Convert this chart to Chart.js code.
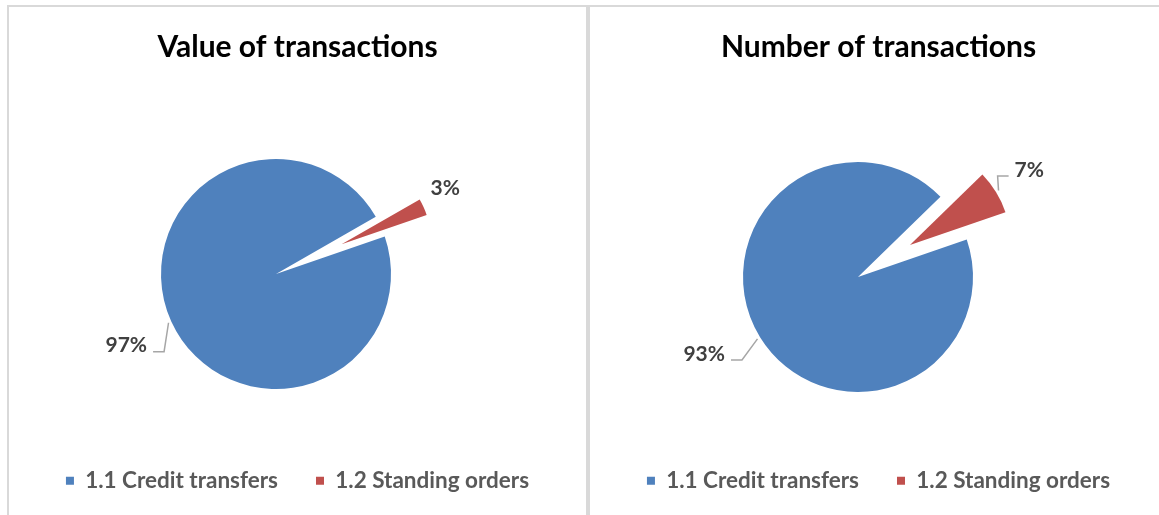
<!DOCTYPE html>
<html>
<head>
<meta charset="utf-8">
<title>Transactions</title>
<script src="https://cdn.jsdelivr.net/npm/chart.js@4.4.1/dist/chart.umd.min.js"></script>
<style>
  html, body { margin: 0; padding: 0; background: #fff; overflow: hidden; width: 1159px; height: 515px; }
  .panel { position: absolute; top: 5px; height: 600px; border: 2px solid #d9d9d9; box-sizing: border-box; }
  #leftPanel { left: 7px; width: 581px; }
  #rightPanel { left: 588px; width: 600px; }
  .panel canvas { position: absolute; left: 0; top: 0; }
</style>
</head>
<body>
<div class="panel" id="leftPanel"><canvas id="valueChart" width="577" height="495"></canvas></div>
<div class="panel" id="rightPanel"><canvas id="numberChart" width="577" height="495"></canvas></div>
<script>
// data (shares in %)
const categories = ['1.1 Credit transfers', '1.2 Standing orders'];
const valueShares = [97, 3];
const numberShares = [93, 7];
const chartTitles = ['Value of transactions', 'Number of transactions'];

const sliceColors = ['#4f81bd', '#c0504d'];
const FONT = 'Lato, "Open Sans", sans-serif';

// move the pie inside its canvas (title + legend stay centred)
const pieCenter = {
  id: 'pieCenter',
  afterLayout(chart, args, opts) {
    const a = chart.chartArea;
    const dx = opts.x - (a.left + a.right) / 2;
    const dy = opts.y - (a.top + a.bottom) / 2;
    a.left += dx; a.right += dx; a.top += dy; a.bottom += dy;
  }
};

// pull the small slice out of the pie and draw it smaller, like excel does
const explode = {
  id: 'explode',
  afterDatasetsUpdate(chart, args, opts) {
    chart.getDatasetMeta(0).data.forEach((arc, i) => {
      if (!opts.shift[i]) return;
      const mid = (arc.startAngle + arc.endAngle) / 2;
      arc.x += Math.cos(mid) * opts.shift[i];
      arc.y += Math.sin(mid) * opts.shift[i];
      arc.outerRadius = opts.radius[i];
    });
  }
};

// percentage labels with excel style leader lines
const pctLabels = {
  id: 'pctLabels',
  afterDatasetsDraw(chart, args, opts) {
    const ctx = chart.ctx;
    const a = chart.chartArea;
    const cx = (a.left + a.right) / 2;
    const cy = (a.top + a.bottom) / 2;
    const meta = chart.getDatasetMeta(0);
    const values = chart.data.datasets[0].data;
    const total = values.reduce((s, v) => s + v, 0);
    ctx.save();
    ctx.font = 'bold 21px ' + FONT;
    ctx.textAlign = 'center';
    ctx.textBaseline = 'middle';
    meta.data.forEach((arc, i) => {
      const mid = (arc.startAngle + arc.endAngle) / 2;
      const ang = mid + opts.turn[i] * Math.PI / 180;
      const lx = cx + Math.cos(ang) * opts.dist[i];
      const ly = cy + Math.sin(ang) * opts.dist[i];
      const text = Math.round(values[i] / total * 100) + '%';
      const w = ctx.measureText(text).width;

      if (opts.leader[i]) {
        const edge = arc.outerRadius + 3;
        const x0 = arc.x + Math.cos(mid) * edge;
        const y0 = arc.y + Math.sin(mid) * edge;
        const side = Math.cos(ang) < 0 ? 1 : -1;
        ctx.beginPath();
        ctx.moveTo(x0, y0);
        ctx.lineTo(lx + side * (w / 2 + 17), ly + 6);
        ctx.lineTo(lx + side * (w / 2 + 6), ly + 6);
        ctx.strokeStyle = '#a6a6a6';
        ctx.lineWidth = 1.5;
        ctx.stroke();
      }
      ctx.fillStyle = '#404040';
      ctx.fillText(text, lx, ly);
    });
    ctx.restore();
  }
};

function makePie(id, title, shares, look) {
  return new Chart(document.getElementById(id), {
    type: 'pie',
    data: {
      labels: categories,
      datasets: [{
        data: shares,
        backgroundColor: sliceColors,
        borderWidth: 0,
        rotation: 71,
        radius: 115,
        clip: false
      }]
    },
    options: {
      responsive: false,
      animation: false,
      events: [],
      layout: { padding: 0 },
      plugins: {
        title: {
          display: true,
          text: title,
          color: '#000',
          font: { family: FONT, size: 30, weight: 'bold' },
          padding: { top: 22, bottom: 20 }
        },
        legend: {
          position: 'bottom',
          labels: {
            usePointStyle: true,
            pointStyle: 'rect',
            boxWidth: 8,
            boxHeight: 8,
            padding: 38,
            color: '#595959',
            font: { family: FONT, size: 22.5, weight: 'bold' }
          }
        },
        tooltip: { enabled: false },
        pieCenter: look.center,
        explode: look.explode,
        pctLabels: look.labels
      }
    },
    plugins: [pieCenter, explode, pctLabels]
  });
}

makePie('valueChart', chartTitles[0], valueShares, {
  explode: { shift: [0, 72], radius: [null, 90] },
  center: { x: 267, y: 267 },
  labels: { dist: [166, 190], turn: [-1.2, -2.6], leader: [true, false] }
});

makePie('numberChart', chartTitles[1], numberShares, {
  explode: { shift: [0, 61], radius: [null, 101] },
  center: { x: 268, y: 270 },
  labels: { dist: [172, 202], turn: [5, -0.4], leader: [true, true] }
});
</script>
</body>
</html>
